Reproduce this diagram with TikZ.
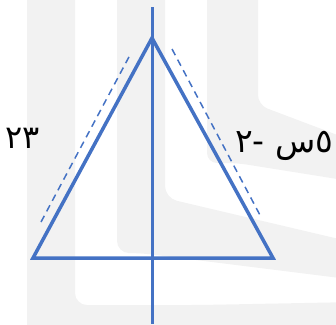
\documentclass[tikz,border=0pt]{standalone}
\usepackage{fontspec}
\newfontfamily\arabicfont[Script=Arabic]{DejaVu Sans}
\TeXXeTstate=1
\definecolor{lineclr}{RGB}{68, 114, 196}
\definecolor{wmclr}  {RGB}{242, 242, 242}

\begin{document}
\begin{tikzpicture}[x=1pt, y=-1pt, font=\arabicfont\fontsize{32}{36}\selectfont]
  \useasboundingbox (0,0) rectangle (336,324);
  % watermark in the back
  \fill[wmclr, rounded corners=12pt] (27,-20) -- (75,-20) -- (75,305) -- (200,305)
    -- (356,302) -- (356,344) -- (27,344) -- cycle;
  \fill[wmclr, rounded corners=12pt] (117,-20) -- (165,-20) -- (165,198) -- (356,243)
    -- (356,280) -- (140,253) -- (117,253) -- cycle;
  \fill[wmclr, rounded corners=10pt] (207,-20) -- (258,-20) -- (258,105) -- (356,142)
    -- (356,182) -- (237,163) -- (207,163) -- cycle;
  % points
  \coordinate (top)    at (152,7);
  \coordinate (bottom) at (152,324);
  \coordinate (apex)   at (152,38);
  \coordinate (bl)     at (33,258);
  \coordinate (br)     at (273,258);
  % triangle and its axis
  \draw[lineclr, line width=3.5pt] (apex) -- (bl) -- (br) -- cycle;
  \draw[lineclr, line width=3pt] (top) -- (bottom);
  % dashed sides
  \coordinate (la) at (41,222);
  \coordinate (lb) at (130,55);
  \coordinate (ra) at (172,49);
  \coordinate (rb) at (261,217);
  \draw[lineclr, line width=1.5pt, dash pattern=on 7pt off 5pt] (la) -- (lb);
  \draw[lineclr, line width=1.5pt, dash pattern=on 7pt off 5pt] (ra) -- (rb);
  % labels
  \node[inner sep=0pt] (leftlbl) at (23,138) {\beginR ٢٣\endR};
  \node[inner sep=0pt, anchor=west, font=\arabicfont\fontsize{33}{38}\selectfont]
    (rightlbl) at (235,146) {\beginR ٥س -٢\endR};
\end{tikzpicture}
\end{document}
